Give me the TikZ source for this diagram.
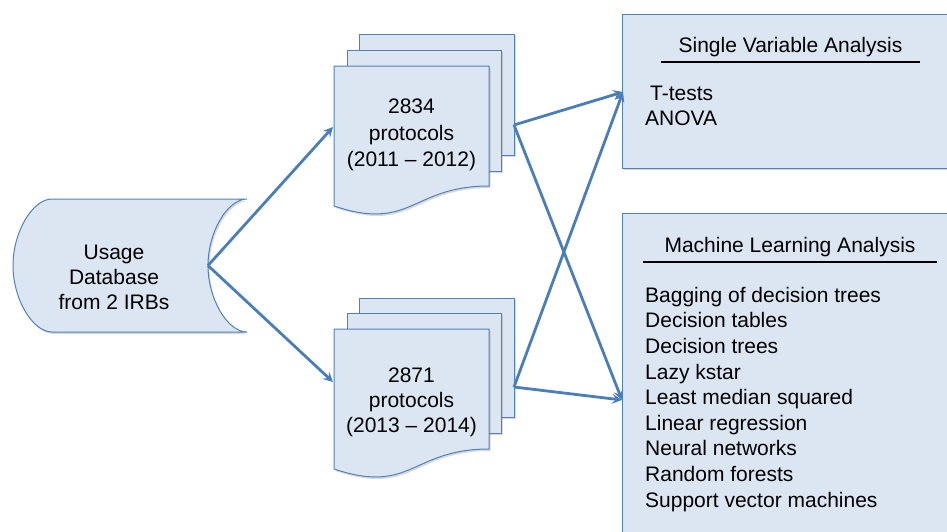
\documentclass[tikz,border=0pt]{standalone}
\usepackage{fontspec}
\setmainfont{Liberation Sans}
\usetikzlibrary{arrows.meta,shadows}
\definecolor{boxfill}{HTML}{DCE6F2}
\definecolor{boxline}{HTML}{4F81BD}
\definecolor{arrowc}{HTML}{4A7EBB}
\begin{document}
\begin{tikzpicture}[x=1pt,y=-1pt,
  shp/.style={fill=boxfill,draw=boxline,line width=1pt,
    drop shadow={shadow xshift=1.5pt,shadow yshift=-2pt,opacity=0.25,fill=black!60}},
  conn/.style={draw=arrowc,line width=2.8pt,-{Stealth[length=10pt,width=10pt,inset=4pt]}},
  txt/.style={font=\fontsize{21}{25}\selectfont,inner sep=0pt,align=center},
  item/.style={font=\fontsize{21}{25}\selectfont,inner sep=0pt,anchor=west,text height=15pt,text depth=4.5pt},
  uline/.style={draw=black,line width=1.6pt}]
\useasboundingbox (0,0) rectangle (947,531);
\clip (0,0) rectangle (947,531);

% database
\path[shp] (52,199) -- (247,199) .. controls (227.5,199) and (208,232) .. (208,265.5)
  .. controls (208,299) and (227.5,332) .. (247,332) -- (52,332)
  .. controls (32.5,332) and (13,299) .. (13,265.5)
  .. controls (13,232) and (32.5,199) .. (52,199) -- cycle;
\coordinate (db) at (208,265.5);
\node[txt] (dbtext) at (114,277) {Usage\\Database\\from 2 IRBs};

% document stack 1
\path[shp] (359,34) rectangle (514,155);
\path[shp] (347,50) rectangle (501,171);
\path[shp] (334,66) -- (489,66) -- (489,186) .. controls (411.5,186) and (411.5,232) .. (334,206) -- cycle;
\node[txt,font=\fontsize{21}{26.5}\selectfont] (d1text) at (411.5,135) {2834\\protocols\\(2011 – 2012)};
\coordinate (d1in) at (333,127);
\coordinate (d1out) at (514,125);

% document stack 2
\path[shp] (359,298) rectangle (514,417);
\path[shp] (347,313) rectangle (501,433);
\path[shp] (334,329) -- (489,329) -- (489,449) .. controls (411.5,449) and (411.5,495) .. (334,469) -- cycle;
\node[txt] (d2text) at (411.5,402) {2871\\protocols\\(2013 – 2014)};
\coordinate (d2in) at (333,382);
\coordinate (d2out) at (514,387);

% single variable analysis box
\path[shp] (622,14) rectangle (990,168);
\node[item,anchor=center] (svatitle) at (790.5,47) {Single Variable Analysis};
\draw[uline] (661,62) -- (920,62);
\node[item] (tt) at (650,95) {T-tests};
\node[item] (anova) at (645,120) {ANOVA};
\coordinate (svain) at (623,92);

% machine learning analysis box
\path[shp] (622,213) rectangle (990,580);
\node[item,anchor=center] (mltitle) at (790,247) {Machine Learning Analysis};
\draw[uline] (643,262) -- (937,262);
\foreach \t [count=\i] in {Bagging of decision trees,Decision tables,Decision trees,Lazy kstar,Least median squared,Linear regression,Neural networks,Random forests,Support vector machines}
  \node[item] (ml\i) at (645,{297+25.6*(\i-1)}) {\t};
\coordinate (mlin) at (622,400);

% connectors
\draw[conn] (db) -- (d1in);
\draw[conn] (db) -- (d2in);
\draw[conn] (d1out) -- (svain);
\draw[conn] (d1out) -- (mlin);
\draw[conn] (d2out) -- (svain);
\draw[conn] (d2out) -- (mlin);
\end{tikzpicture}
\end{document}
